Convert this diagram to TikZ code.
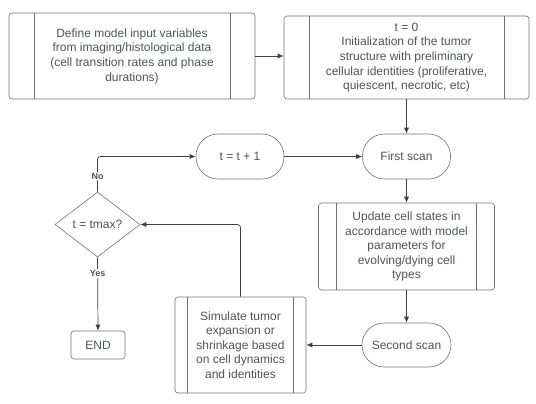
\documentclass[tikz,border=0pt]{standalone}
\usepackage{fontspec}
\setmainfont{Liberation Sans}
\usetikzlibrary{arrows.meta,positioning,shapes.geometric}
\definecolor{linegray}{HTML}{6E7278}
\definecolor{textgray}{HTML}{4F535A}
\definecolor{tipgray}{HTML}{3C3F44}

\begin{document}
\begin{tikzpicture}[
      x=1pt, y=-1pt,
      every node/.style={font=\fontsize{12}{14.6}\selectfont, text=textgray},
      procbox/.style={
        rectangle, draw=linegray, line width=0.6pt, rounded corners=3pt,
        inner sep=0pt, align=center,
        path picture={
          \draw[linegray, line width=0.6pt]
            ([xshift=#1]path picture bounding box.north west) --
            ([xshift=#1]path picture bounding box.south west);
          \draw[linegray, line width=0.6pt]
            ([xshift=-#1]path picture bounding box.north east) --
            ([xshift=-#1]path picture bounding box.south east);
        }
      },
      scanbox/.style={
        rectangle, draw=linegray, line width=0.6pt, rounded corners=22pt,
        minimum width=88pt, minimum height=45pt, inner sep=0pt, align=center
      },
      decbox/.style={
        diamond, draw=linegray, line width=0.6pt, inner sep=0pt,
        minimum width=85pt, minimum height=65pt, aspect=1.3
      },
      endbox/.style={
        rectangle, draw=linegray, line width=0.6pt, rounded corners=3pt,
        minimum width=54pt, minimum height=28pt, inner sep=0pt
      },
      arr/.style={-{Latex[length=6pt,width=5pt]}, draw=linegray, line width=0.7pt, color=tipgray},
      conn/.style={draw=linegray, line width=0.7pt, rounded corners=3pt},
      lbl/.style={font=\fontsize{9}{10}\selectfont\bfseries, fill=white, inner sep=1pt}
    ]
    \useasboundingbox (0,0) rectangle (536,404);

    % ===== Top row: inputs and initial structure =====
    \node[procbox=25pt, minimum width=246pt, minimum height=86pt] (inp) at (132,56)
      {Define model input variables\\from imaging/histological data\\(cell transition rates and phase\\durations)};
    \node[procbox=25pt, minimum width=245pt, minimum height=83pt] (init) at (406.5,57.5)
      {t = 0\\Initialization of the tumor\\structure with preliminary\\cellular identities (proliferative,\\quiescent, necrotic, etc)};

    % ===== Time step and scans =====
    \node[scanbox] (tinc) at (240,156.5) {t = t + 1};
    \node[scanbox] (scan1) at (406.5,156.5) {First scan};
    \node[procbox=18pt, minimum width=176pt, minimum height=87pt] (upd) at (406.5,246.5)
      {Update cell states in\\accordance with model\\parameters for\\evolving/dying cell\\types};
    \node[scanbox, minimum width=89pt, minimum height=44pt] (scan2) at (406.5,345) {Second scan};
    \node[procbox=12.5pt, minimum width=131pt, minimum height=96pt] (sim) at (240.5,345)
      {Simulate tumor\\expansion or\\shrinkage based\\on cell dynamics\\and identities};

    % ===== Decision and end =====
    \node[decbox] (dec) at (97.5,224.5) {t = tmax?};
    \node[endbox] (fin) at (98,345) {END};

    % ===== Arrows =====
    \draw[arr] (inp.east) -- (inp.east -| init.west);
    \draw[arr] (init.south) -- (scan1.north);
    \draw[arr] (tinc.east) -- (scan1.west);
    \draw[arr] (scan1.south) -- (upd.north);
    \draw[arr] (upd.south) -- (scan2.north);
    \draw[arr] (scan2.west) -- (sim.east);
    \draw[conn, arr] (sim.north) |- (dec.east);
    \draw[conn, arr] (dec.north) |- (tinc.west)
      node[lbl, pos=0.22] {No};
    \draw[arr] (dec.south) -- (fin.north)
      node[lbl, pos=0.22] {Yes};
  \end{tikzpicture}
\end{document}
